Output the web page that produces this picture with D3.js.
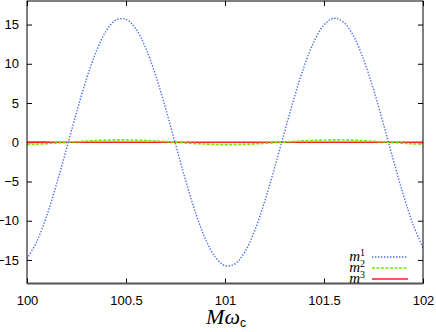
<!DOCTYPE html>
<html>
<head>
<meta charset="utf-8">
<script src="https://cdn.jsdelivr.net/npm/d3@7"></script>
<style>
  body { margin: 0; background: #fff; }
  svg { display: block; }
  .tick text { font-family: "Liberation Sans", Arial, sans-serif; font-size: 13px; }
</style>
</head>
<body>
<div class="chart"></div>
<script>
var xs = [100.00, 100.05, 100.10, 100.15, 100.20, 100.25, 100.30, 100.35, 100.40, 100.45,
          100.50, 100.55, 100.60, 100.65, 100.70, 100.75, 100.80, 100.85, 100.90, 100.95,
          101.00, 101.05, 101.10, 101.15, 101.20, 101.25, 101.30, 101.35, 101.40, 101.45,
          101.50, 101.55, 101.60, 101.65, 101.70, 101.75, 101.80, 101.85, 101.90, 101.95, 102.00];

var m1 = [-14.84, -12.62, -9.34, -5.28, -0.78, 3.78, 8.03, 11.60, 14.19, 15.59,
          15.67, 14.43, 11.97, 8.50, 4.31, -0.23, -4.76, -8.89, -12.27, -14.61,
          -15.72, -15.51, -13.98, -11.26, -7.56, -3.30, 1.24, 5.71, 9.69, 12.85,
          14.96, 15.80, 15.28, 13.49, 10.55, 6.73, 2.34, -2.25, -6.65, -10.49, -13.44];

var m2 = [-0.28, -0.24, -0.18, -0.10, -0.02, 0.07, 0.15, 0.22, 0.27, 0.30,
          0.30, 0.27, 0.23, 0.16, 0.08, 0.00, -0.09, -0.17, -0.23, -0.28,
          -0.30, -0.29, -0.26, -0.21, -0.14, -0.06, 0.02, 0.11, 0.18, 0.24,
          0.28, 0.30, 0.29, 0.26, 0.20, 0.13, 0.04, -0.04, -0.13, -0.20, -0.25];

var m3 = [0.01, 0.01, 0.01, 0.00, 0.00, 0.00, 0.00, 0.00, 0.00, 0.00,
          0.00, 0.00, 0.00, 0.00, 0.00, 0.00, 0.00, 0.00, 0.00, 0.00,
          0.00, 0.00, 0.00, 0.00, 0.00, 0.00, 0.00, 0.00, 0.00, 0.00,
          0.00, 0.00, 0.00, 0.00, 0.00, 0.00, 0.00, 0.00, 0.00, 0.00, 0.00];

var xTicks = [100, 100.5, 101, 101.5, 102];
var yTicks = [-15, -10, -5, 0, 5, 10, 15];
var seriesNames = ["1", "2", "3"];

(function drawChart() {
	var width = 436, height = 332;
	var padL = 27, padR = 423, padT = 1, padB = 283.5;

	var svg = d3.select(".chart")
	            .append("svg")
	            .attr("width", width)
	            .attr("height", height);

	var xScale = d3.scaleLinear().domain([100, 102]).range([padL, padR]);
	var yScale = d3.scaleLinear().domain([-18, 18]).range([padB, padT]);

	// axes, ticks pointing inward (gnuplot style)
	var xAxis = d3.axisBottom(xScale).tickValues(xTicks).tickSizeInner(-5).tickSizeOuter(0)
	              .tickPadding(12).tickFormat(d3.format("~g"));
	var xTop = d3.axisTop(xScale).tickValues(xTicks).tickSizeInner(-5).tickSizeOuter(0).tickFormat("");
	var yAxis = d3.axisLeft(yScale).tickValues(yTicks).tickSizeInner(-5).tickSizeOuter(0)
	              .tickPadding(8).tickFormat(d3.format("d"));
	var yRight = d3.axisRight(yScale).tickValues(yTicks).tickSizeInner(-5).tickSizeOuter(0).tickFormat("");

	function styleAxis(g) {
		g.select(".domain").remove();
		g.selectAll(".tick line").attr("stroke", "#000");
		g.selectAll(".tick text").attr("fill", "#000");
	}

	svg.append("g").attr("transform", "translate(0," + padB + ")").call(xAxis).call(styleAxis);
	svg.append("g").attr("transform", "translate(0," + padT + ")").call(xTop).call(styleAxis);
	svg.append("g").attr("transform", "translate(" + padL + ",0)").call(yAxis).call(styleAxis);
	svg.append("g").attr("transform", "translate(" + padR + ",0)").call(yRight).call(styleAxis);

	// lines
	svg.append("clipPath").attr("id", "clip")
		.append("rect").attr("x", padL).attr("y", padT).attr("width", padR - padL).attr("height", padB - padT);

	function lineFor(vals) {
		return d3.line()
			.x(function(d, i) { return xScale(xs[i]); })
			.y(function(d) { return yScale(d); })
			.curve(d3.curveCatmullRom)(vals);
	}

	var plot = svg.append("g").attr("clip-path", "url(#clip)");

	plot.append("path").attr("d", lineFor(m3))
		.attr("fill", "none").attr("stroke", "#ff2020").attr("stroke-width", 1.6);
	plot.append("path").attr("d", lineFor(m2))
		.attr("fill", "none").attr("stroke", "#66ee00").attr("stroke-width", 1.6)
		.attr("stroke-dasharray", "3,1.5");
	plot.append("path").attr("d", lineFor(m1))
		.attr("fill", "none").attr("stroke", "#4a6ee8").attr("stroke-width", 1.4)
		.attr("stroke-dasharray", "1.4,1.6");

	// frame
	svg.append("rect")
		.attr("x", padL).attr("y", padT)
		.attr("width", padR - padL).attr("height", padB - padT)
		.attr("fill", "none").attr("stroke", "#000").attr("stroke-width", 1);
	svg.append("line")
		.attr("x1", padL).attr("x2", padR).attr("y1", padB).attr("y2", padB)
		.attr("stroke", "#555").attr("stroke-width", 2);

	// legend
	var legendStyles = [
		{ color: "#4a6ee8", dash: "1.4,1.6", w: 1.4 },
		{ color: "#66ee00", dash: "3,1.5", w: 1.6 },
		{ color: "#ff2020", dash: null, w: 1.6 }
	];
	var legend = svg.append("g");
	seriesNames.forEach(function(n, i) {
		var y = 257 + i * 11;
		var t = legend.append("text")
			.attr("x", 365).attr("y", y + 4)
			.attr("text-anchor", "end")
			.attr("font-family", "'Liberation Serif', 'DejaVu Serif', serif")
			.attr("font-size", 15);
		t.append("tspan").attr("font-style", "italic").text("m");
		t.append("tspan").attr("font-size", 10).attr("dy", -5).text(n);
		legend.append("line")
			.attr("x1", 372).attr("x2", 408).attr("y1", y).attr("y2", y)
			.attr("stroke", legendStyles[i].color)
			.attr("stroke-width", legendStyles[i].w)
			.attr("stroke-dasharray", legendStyles[i].dash);
	});

	// x axis title
	var title = svg.append("text")
		.attr("x", 226).attr("y", 324)
		.attr("text-anchor", "middle")
		.attr("font-family", "'Liberation Serif', 'DejaVu Serif', serif")
		.attr("font-size", 22)
		.attr("font-style", "italic");
	title.append("tspan").text("M\u03C9");
	title.append("tspan").attr("font-style", "normal").attr("font-size", 12).attr("dy", 3)
		.attr("font-family", "'Liberation Sans', Arial, sans-serif").text("c");
}());
</script>
</body>
</html>
